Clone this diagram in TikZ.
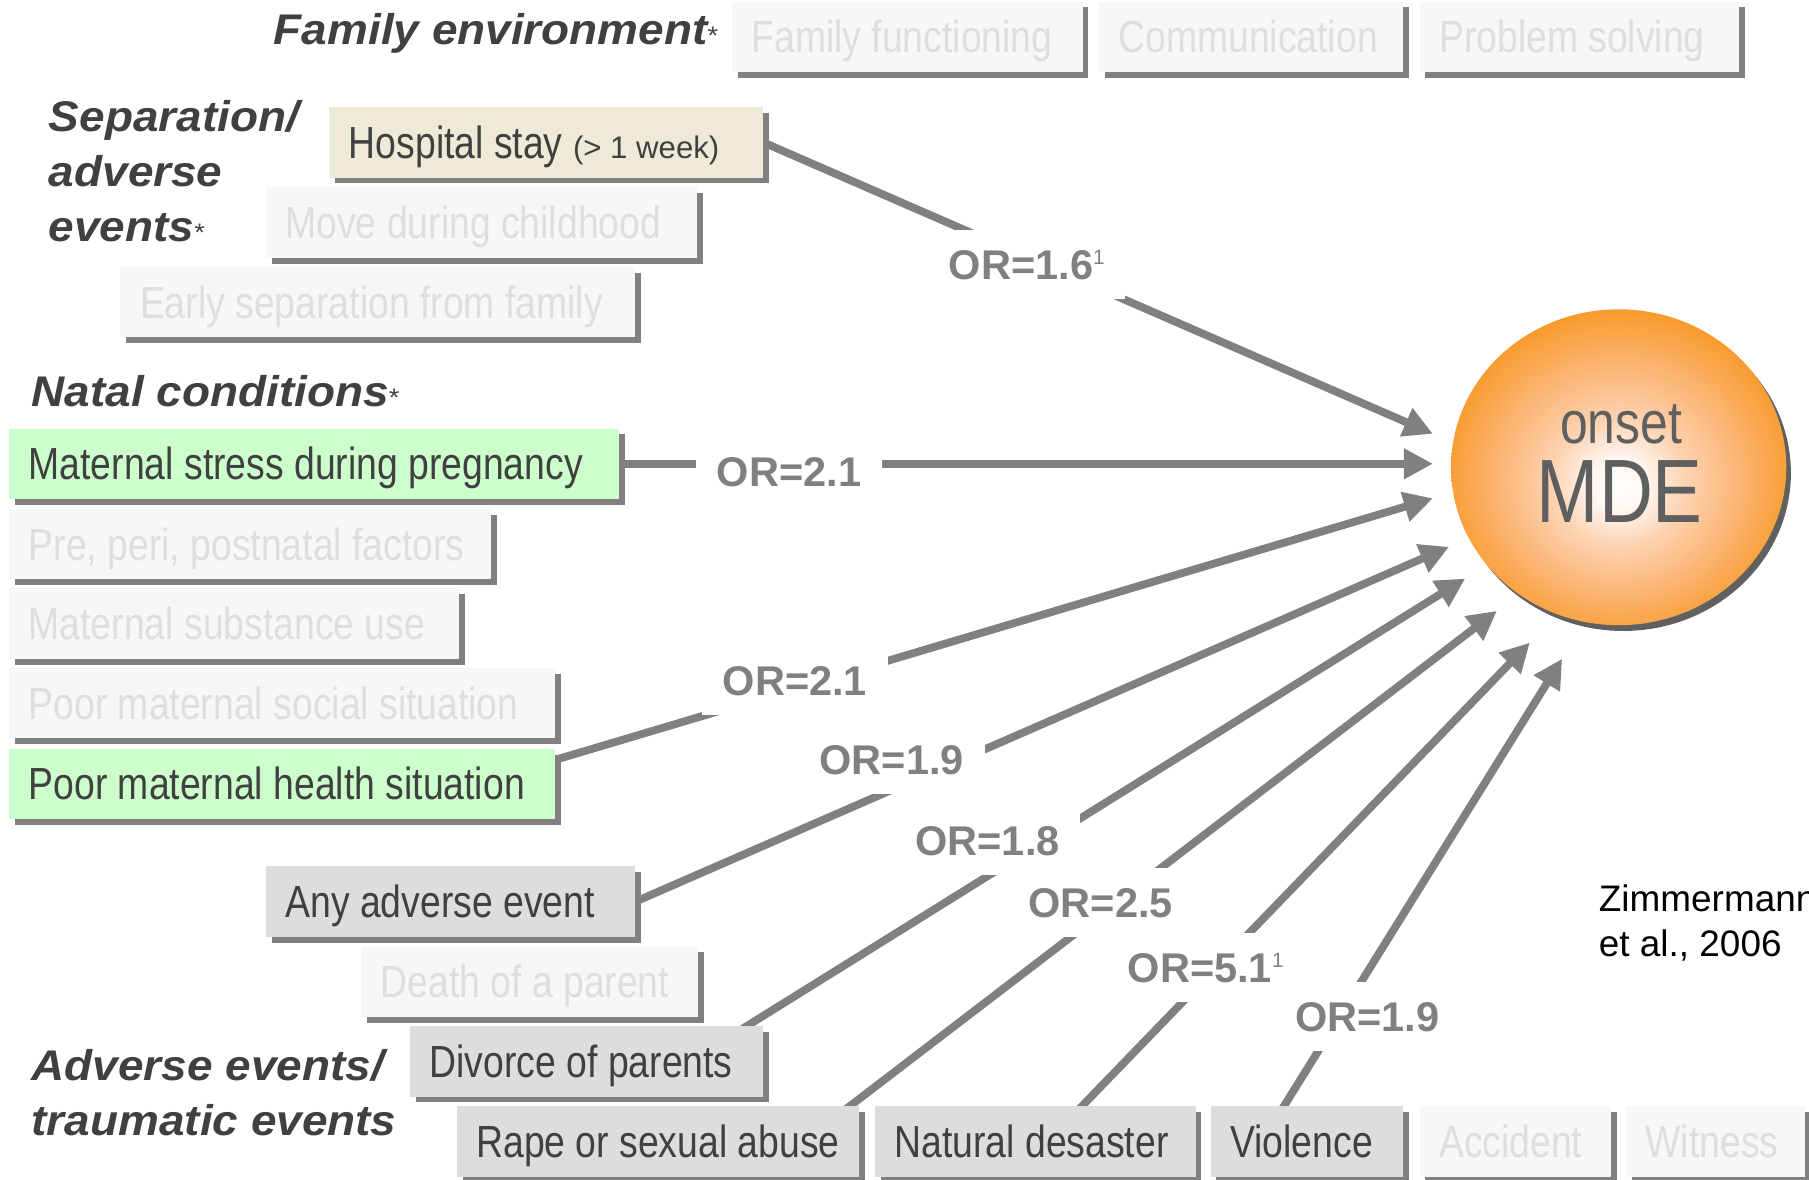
\documentclass[tikz,border=0pt]{standalone}
\usepackage{fontspec}
\setmainfont{Liberation Sans}
\newfontfamily\narrowsans[FakeStretch=0.83]{Liberation Sans}
\newfontfamily\headsans[FakeStretch=1.07]{Liberation Sans}
\usetikzlibrary{arrows.meta,shadows,shapes.geometric,backgrounds}

\definecolor{shadowgray}{HTML}{808080}
\definecolor{linegray}{HTML}{808080}
\definecolor{headtext}{HTML}{404040}
\definecolor{darktext}{HTML}{404040}
\definecolor{palefill}{HTML}{F7F7F7}
\definecolor{paletext}{HTML}{DEDEDE}
\definecolor{activefill}{HTML}{DDDDDD}
\definecolor{greenfill}{HTML}{CCFFCC}
\definecolor{beigefill}{HTML}{EEEAD7}
\definecolor{mdeorange}{HTML}{F7941D}
\definecolor{mdemid}{HTML}{F89C30}
\definecolor{mdepeach}{HTML}{FBB574}
\definecolor{mdelight}{HTML}{FDD3B2}
\definecolor{mdecore}{HTML}{FFF7F2}
\definecolor{mdetext}{HTML}{5F5F5F}
\definecolor{mdeshadow}{HTML}{606060}

\pgfdeclareradialshading{mdeglow}{\pgfpoint{0bp}{-3bp}}{color(0bp)=(white); color(4bp)=(mdecore); color(10bp)=(mdelight); color(18bp)=(mdepeach); color(26bp)=(mdemid); color(31bp)=(mdeorange); color(50bp)=(mdeorange)}

\newcommand\headstar{{\fontsize{11}{11}\selectfont\mdseries\upshape *}}
\newcommand\refmark{\raisebox{6.5pt}{\fontsize{9}{9}\selectfont\mdseries 1}}

\tikzset{
  factorbox/.style={anchor=west, inner xsep=8.5pt, inner ysep=0pt, minimum height=30.5pt,
    text width={(#1)*0.5pt-17pt}, align=left, text height=13.9pt, text depth=0pt,
    font=\narrowsans\fontsize{19.5}{22}\selectfont,
    execute at begin node={\hbox\bgroup\spaceskip=0pt\xspaceskip=0pt\relax},
    execute at end node=\egroup,
    drop shadow={shadow xshift=2.5pt, shadow yshift=-2.5pt, fill=shadowgray, opacity=1}},
  pale/.style={fill=palefill, text=paletext},
  active/.style={fill=activefill, text=darktext},
  heading/.style={anchor=base west, inner sep=0pt, align=left, text=headtext,
    font=\headsans\fontsize{18.6}{23.75}\selectfont\bfseries\itshape,
    execute at begin node={\spaceskip=0pt\xspaceskip=0pt\relax}},
  oddsratio/.style={fill=white, text=linegray, inner xsep=9pt, inner ysep=8.5pt,
    text height=12.9pt, text depth=0pt, font=\fontsize{18}{18}\selectfont\bfseries},
  link/.style={draw=linegray, line width=3.4pt, shorten <=-3pt,
    -{Triangle[length=12.6pt,width=12.6pt]}}
}

\begin{document}
\begin{tikzpicture}[x=0.5pt, y=-0.5pt]
\useasboundingbox (0,0) rectangle (1568,1022);

% group headings (base = last line)
\node[heading] (famenv) at (237,39) {Family environment\headstar};
\node[heading] (separation) at (42,209) {Separation/\\adverse\\events\headstar};
\node[heading] (natal) at (27,352.5) {Natal conditions\headstar};
\node[heading] (traumatic) at (27,984) {Adverse events/\\traumatic events};

% family environment
\node[factorbox=304, pale] (famfunc) at (634,32) {Family functioning};
\node[factorbox=264, pale] (communication) at (952,32) {Communication};
\node[factorbox=277, pale] (problem) at (1230,32) {Problem solving};

% separation / adverse events
\node[factorbox=376, fill=beigefill, text=darktext] (hospital) at (285,123.5)
  {Hospital stay {\normalfont\fontsize{13.5}{15}\selectfont(> 1 week)}};
\node[factorbox=374, pale] (move) at (230,193) {Move during childhood};
\node[factorbox=446, pale] (earlysep) at (104,262) {Early separation from family};

% natal conditions
\node[factorbox=529, fill=greenfill, text=darktext] (matstress) at (7.5,402) {Maternal stress during pregnancy};
\node[factorbox=418, pale] (prenatal) at (7.5,471.5) {Pre, peri, postnatal factors};
\node[factorbox=390, pale] (substance) at (7.5,540.5) {Maternal substance use};
\node[factorbox=473, pale] (social) at (7.5,609.5) {Poor maternal social situation};
\node[factorbox=473, fill=greenfill, text=darktext] (health) at (7.5,679.5) {Poor maternal health situation};

% adverse / traumatic events
\node[factorbox=320, active] (anyevent) at (230,781.5) {Any adverse event};
\node[factorbox=292, pale] (death) at (312.5,851) {Death of a parent};
\node[factorbox=306, active] (divorce) at (355,920) {Divorce of parents};
\node[factorbox=348.5, active] (rape) at (395.5,989.5) {Rape or sexual abuse};
\node[factorbox=278, active] (disaster) at (758,989.5) {Natural desaster};
\node[factorbox=167, active] (violence) at (1049,989.5) {Violence};
\node[factorbox=166, pale] (accident) at (1230,989.5) {Accident};
\node[factorbox=155, pale] (witness) at (1409,989.5) {Witness};

% outcome
\node[ellipse, minimum width=145.3pt, minimum height=136.9pt, inner sep=0pt,
  shade, shading=mdeglow,
  drop shadow={shadow xshift=2pt, shadow yshift=-2.5pt, fill=mdeshadow, opacity=1}] (mde) at (1403,405) {};
\node[anchor=base, inner sep=0pt, text=mdetext, font=\narrowsans\fontsize{26}{26}\selectfont] (onset) at (1405,384) {onset};
\node[anchor=base, inner sep=0pt, text=mdetext, font=\narrowsans\fontsize{39}{39}\selectfont] (mdename) at (1404,453) {MDE};

% arrow tips at the outcome
\coordinate (t1) at (1242,376);
\coordinate (t2) at (1242,402);
\coordinate (t3) at (1242,432);
\coordinate (t4) at (1256,474);
\coordinate (t5) at (1270,501.5);
\coordinate (t6) at (1297.5,529.5);
\coordinate (t7) at (1326,557);
\coordinate (t8) at (1354,571);

\begin{scope}[on background layer]
\draw[link] (hospital.east) -- (t1);
\draw[link] (matstress.east) -- (t2);
\draw[link] ([yshift=-5pt]health.north east) -- (t3);
\draw[link] (anyevent.east) -- (t4);
\draw[link] ([xshift=-7pt]divorce.north east) -- (t5);
\draw[link] ([xshift=-4pt]rape.north east) -- (t6);
\draw[link] ([xshift=90pt]disaster.north west) -- (t7);
\draw[link] ([xshift=32pt]violence.north west) -- (t8);
\end{scope}

% odds ratios
\node[oddsratio] (or1) at (890,229) {OR=1.6\refmark};
\node[oddsratio] (or2) at (684,409) {OR=2.1};
\node[oddsratio] (or3) at (689,590) {OR=2.1};
\node[oddsratio] (or4) at (773,658.5) {OR=1.9};
\node[oddsratio] (or5) at (856,728.5) {OR=1.8};
\node[oddsratio] (or6) at (954,782.5) {OR=2.5};
\node[oddsratio] (or7) at (1045,838.5) {OR=5.1\refmark};
\node[oddsratio] (or8) at (1185,881) {OR=1.9};

\node[anchor=base west, inner sep=0pt, align=left, font=\fontsize{16}{19.5}\selectfont,
  execute at begin node={\spaceskip=0pt\xspaceskip=0pt\relax}] (citation) at (1385.5,829) {Zimmermann\\et al., 2006};
\end{tikzpicture}
\end{document}
